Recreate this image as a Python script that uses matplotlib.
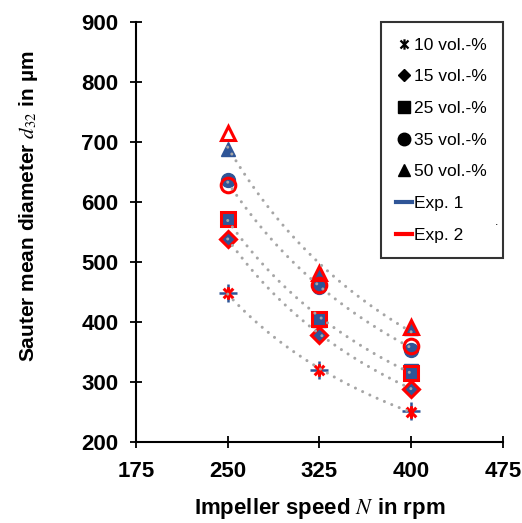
import numpy as np
import matplotlib.pyplot as plt
from matplotlib.path import Path
from matplotlib.lines import Line2D

plt.rcParams["font.family"] = ["Liberation Sans", "DejaVu Sans"]
plt.rcParams["mathtext.fontset"] = "stix"

# Data
speed = [250, 325, 400]
labels = ["10 vol.-%", "15 vol.-%", "25 vol.-%", "35 vol.-%", "50 vol.-%"]
exp1 = {
    "10 vol.-%": [448, 320, 251],
    "15 vol.-%": [539, 379, 289],
    "25 vol.-%": [572, 403, 318],
    "35 vol.-%": [637, 459, 353],
    "50 vol.-%": [688, 481, 390],
}
exp2 = {
    "10 vol.-%": [448, 320, 250],
    "15 vol.-%": [539, 379, 289],
    "25 vol.-%": [572, 405, 315],
    "35 vol.-%": [628, 462, 360],
    "50 vol.-%": [715, 482, 391],
}
xticks = [175, 250, 325, 400, 475]
yticks = [200, 300, 400, 500, 600, 700, 800, 900]

# Excel-like star marker: X plus vertical bar
star = Path(
    [(-1, -1), (1, 1), (-1, 1), (1, -1), (0, -1.3), (0, 1.3)],
    [Path.MOVETO, Path.LINETO, Path.MOVETO, Path.LINETO, Path.MOVETO, Path.LINETO],
)
markers = {"10 vol.-%": star, "15 vol.-%": "D", "25 vol.-%": "s",
           "35 vol.-%": "o", "50 vol.-%": "^"}
msize = {"10 vol.-%": 9, "15 vol.-%": 8, "25 vol.-%": 10, "35 vol.-%": 10.5, "50 vol.-%": 10.5}

blue = "#2F5597"
red = "#FF0000"
grey = "#A6A6A6"

fig = plt.figure(figsize=(5.22, 5.23), dpi=100)
ax = fig.add_axes([0.2605, 0.155, 0.703, 0.803])

for lab in labels:
    m = markers[lab]
    if lab == "10 vol.-%":
        ax.plot(speed, exp1[lab], linestyle="none", marker="+", markersize=13,
                markeredgewidth=1.8, color=blue, zorder=2)
    else:
        ax.plot(speed, exp1[lab], linestyle="none", marker=m, markersize=msize[lab] - 0.5,
                color=blue, markeredgecolor=blue, zorder=2)
    ax.plot(speed, exp2[lab], linestyle="none", marker=m, markersize=msize[lab],
            markerfacecolor="none", markeredgecolor=red, markeredgewidth=2.2, zorder=3)

# power-law trendlines through both experiments
xs = np.linspace(speed[0], speed[-1], 100)
for lab in labels:
    xx = np.log(np.array(speed * 2, dtype=float))
    yy = np.log(np.array(exp1[lab] + exp2[lab], dtype=float))
    b, a = np.polyfit(xx, yy, 1)
    ax.plot(xs, np.exp(a) * xs ** b, color=grey, linewidth=2.2,
            linestyle=(0, (0.01, 2.6)), dash_capstyle="round", zorder=4)

ax.set_xlim(175, 475)
ax.set_ylim(200, 900)
ax.set_xticks(xticks)
ax.set_yticks(yticks)
ax.tick_params(direction="inout", length=9, width=1.3, labelsize=16)
ax.tick_params(axis="x", pad=9)
ax.tick_params(axis="y", pad=8)
for t in ax.get_xticklabels() + ax.get_yticklabels():
    t.set_fontweight("bold")
ax.spines["top"].set_visible(False)
ax.spines["right"].set_visible(False)
ax.spines["left"].set_linewidth(1.5)
ax.spines["bottom"].set_linewidth(1.5)

ax.set_xlabel("Impeller speed $N$ in rpm", fontsize=16, fontweight="bold")
ax.set_ylabel("Sauter mean diameter $d_{32}$ in µm", fontsize=15, fontweight="bold")
ax.xaxis.set_label_coords(0.5, -0.128)
ax.yaxis.set_label_coords(-0.262, 0.562)

handles = [Line2D([], [], linestyle="none", marker=markers[lab], color="black",
                  markersize=msize[lab] - 1.5, markeredgewidth=1.6 if lab == "10 vol.-%" else 1)
           for lab in labels]
handles += [Line2D([], [], color=blue, linewidth=3),
            Line2D([], [], color=red, linewidth=3)]
leg = ax.legend(handles, labels + ["Exp. 1", "Exp. 2"], loc="upper right",
                bbox_to_anchor=(1.0, 1.0), fontsize=12.5, frameon=True, fancybox=False,
                edgecolor="black", labelspacing=0.95, handlelength=0.9, handletextpad=0.15,
                borderpad=0.9, borderaxespad=0)
leg.get_frame().set_linewidth(1.5)
fig.text(497 / 522, 1 - 228 / 523, ".", fontsize=9, ha="center", va="bottom")

fig.savefig("out.png", dpi=100)
